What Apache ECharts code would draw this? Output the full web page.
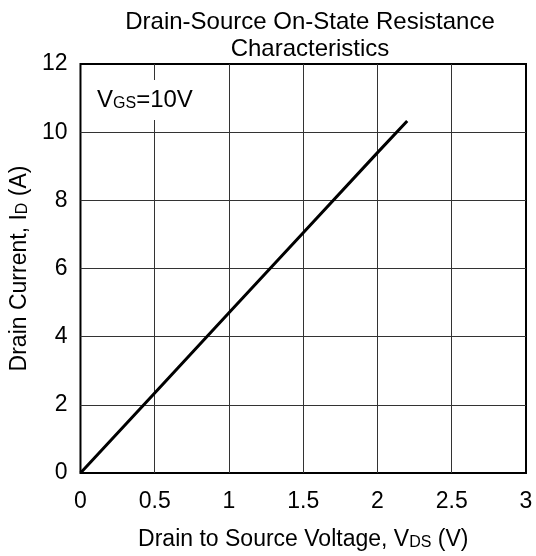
<!DOCTYPE html>
<html><head><meta charset="utf-8">
<script src="https://cdn.jsdelivr.net/npm/echarts@6/dist/echarts.min.js"></script>
<style>html,body{margin:0;padding:0;background:#fff}#c{width:536px;height:556px}</style>
</head><body><div id="c"></div>
<script>
const vdsValues = [0, 0.5, 1.0, 1.5, 2.0, 2.2];
const idValues  = [0, 2.35, 4.7, 7.05, 9.4, 10.33];
const xTicks = [0, 0.5, 1, 1.5, 2, 2.5, 3];
const yTicks = [0, 2, 4, 6, 8, 10, 12];
const titleText = 'Drain-Source On-State Resistance\nCharacteristics';

const FONT = '"Liberation Sans", Arial, sans-serif';
const chart = echarts.init(document.getElementById('c'));
const rich = (big, small) => ({
  t: {fontFamily: FONT, fontSize: big, fontWeight: 'normal', color: '#000', verticalAlign: 'bottom', lineHeight: 28},
  s: {fontFamily: FONT, fontSize: small, fontWeight: 'normal', color: '#000', verticalAlign: 'bottom', lineHeight: 24}
});
chart.setOption({
  animation: false,
  backgroundColor: '#fff',
  title: [{
    text: titleText, left: 305, top: 4, textAlign: 'center',
    textStyle: {fontFamily: FONT, fontWeight: 'normal', fontSize: 24, color: '#000', lineHeight: 27}
  }, {
    text: '{t|V}{s|GS}{t|=10V}', left: 89, top: 76,
    backgroundColor: '#fff', padding: [8, 8, 8, 8],
    textStyle: {rich: rich(24, 16)}
  }],
  grid: {left: 77, right: 10, top: 64, bottom: 79, show: true, borderColor: '#000', borderWidth: 2},
  xAxis: {
    type: 'value', min: 0, max: 3, interval: 0.5,
    axisLine: {show: false}, axisTick: {show: false},
    splitLine: {show: true, showMinLine: false, showMaxLine: false, lineStyle: {color: '#333', width: 1}},
    axisLabel: {fontFamily: FONT, fontSize: 23, color: '#000', margin: 17,
      formatter: v => xTicks.includes(v) ? String(v) : ''},
    name: '{t|Drain to Source Voltage, V}{s|DS}{t| (V)}', nameLocation: 'middle', nameGap: 50,
    nameTextStyle: {rich: rich(23, 16)}
  },
  yAxis: {
    type: 'value', min: 0, max: 12, interval: 2,
    axisLine: {show: false}, axisTick: {show: false},
    splitLine: {show: true, showMinLine: false, showMaxLine: false, lineStyle: {color: '#333', width: 1}},
    axisLabel: {fontFamily: FONT, fontSize: 23, color: '#000', margin: 13,
      formatter: v => yTicks.includes(v) ? String(v) : ''},
    name: '{t|Drain Current, I}{s|D}{t| (A)}', nameLocation: 'middle', nameGap: 45,
    nameTextStyle: {rich: rich(23, 16)}
  },
  series: [{
    type: 'line', data: vdsValues.map((x, i) => [x, idValues[i]]),
    showSymbol: false, lineStyle: {color: '#000', width: 3}, z: 3
  }]
});
</script></body></html>
